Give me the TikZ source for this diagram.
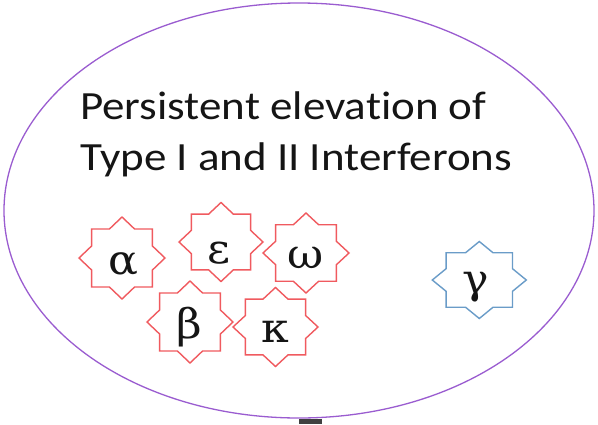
\documentclass[tikz,border=0pt]{standalone}
\usepackage{fontspec}
\setmainfont{Carlito}[Ligatures=NoCommon]
\newfontfamily\grkserif{DejaVu Serif}
\definecolor{ellcol}{HTML}{9A5CD0}
\definecolor{redstar}{HTML}{F05A5F}
\definecolor{bluestar}{HTML}{6A9CC8}
\definecolor{txtcol}{HTML}{151515}
\newcommand{\gk}[1]{{\grkserif\fontsize{41}{46}\selectfont\scalebox{1.08}[1]{#1}}}
\tikzset{
  titletext/.style={anchor=base west, inner sep=0pt, text=txtcol, font=\fontsize{40}{48}\selectfont},
  greekletter/.style={anchor=base, inner sep=0pt, text=txtcol},
  redline/.style={draw=redstar, line width=1.4pt, line join=miter},
  blueline/.style={draw=bluestar, line width=1.4pt, line join=miter},
}
\newcommand{\lakstar}[5]{% style, cx, cy, rx, ry
  \draw[#1] plot[samples at={0,...,15}, variable=\k]
    ({#2 + #4*(mod(\k,2)==0 ? 1 : 0.7654)*cos(\k*22.5)},
     {#3 + #5*(mod(\k,2)==0 ? 1 : 0.7654)*sin(\k*22.5)}) -- cycle;}
\begin{document}
\begin{tikzpicture}[x=1pt,y=-1pt]
\useasboundingbox (0,0) rectangle (598,424);
\fill[white] (0,0) rectangle (598,424);
% outer ellipse
\draw[ellcol, line width=1.3pt] (299,210.5) ellipse [x radius=295, y radius=207.5];
% small dark block at bottom
\fill[black!75] (299,418.5) rectangle (322,424);
% title
\node[titletext] (t1) at (80,119.5) {\scalebox{1.125}[1]{Persistent elevation of}};
\node[titletext] (t2) at (80,170) {\scalebox{1.125}[1]{Type I and II Interferons}};
% stars
\lakstar{redline}{122}{258}{43}{41}
\lakstar{redline}{221}{242}{42}{39.5}
\lakstar{redline}{306}{253}{43}{40}
\lakstar{redline}{190}{322}{43}{41}
\lakstar{redline}{275.5}{327}{42.5}{39.5}
\lakstar{blueline}{479.3}{280}{47}{38.5}
% letters
\node[greekletter] (alpha) at (123,274) {\gk{α}};
\node[greekletter] (eps) at (219,263) {\gk{ε}};
\node[greekletter] (omega) at (306,268) {\gk{ω}};
\node[greekletter] (beta) at (189,338) {\gk{β}};
\node[greekletter] (kappa) at (275,342) {\gk{κ}};
\node[greekletter] (gamma) at (476,293) {\gk{γ}};
\end{tikzpicture}
\end{document}
